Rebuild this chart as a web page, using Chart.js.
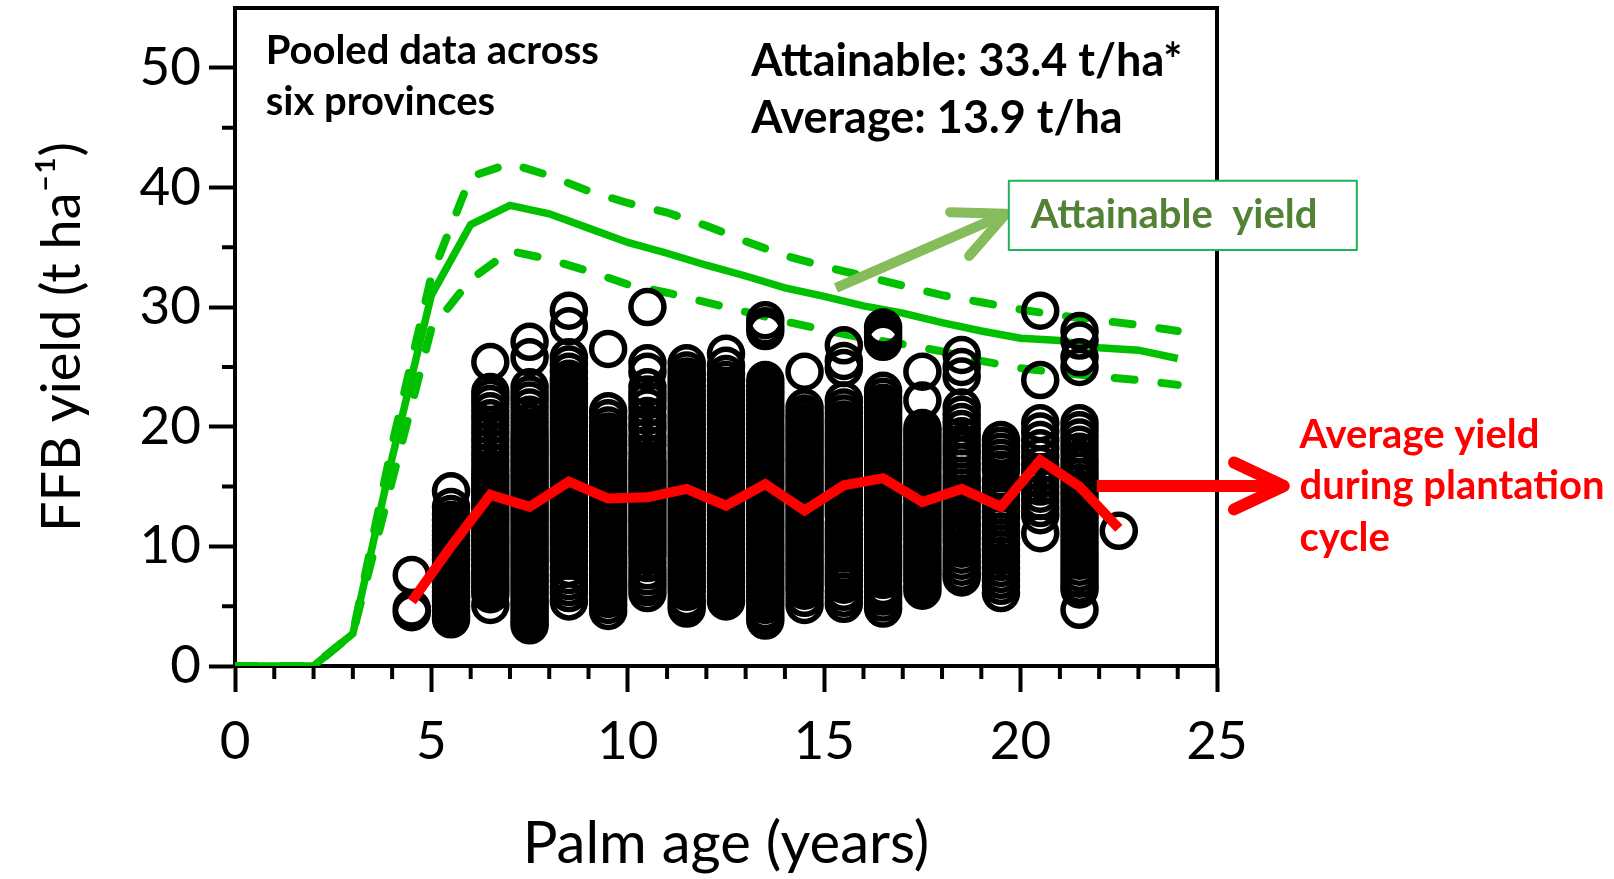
<!DOCTYPE html>
<html>
<head>
<meta charset="utf-8">
<title>FFB yield vs palm age</title>
<script src="https://cdn.jsdelivr.net/npm/chart.js@4.4.1/dist/chart.umd.min.js"></script>
<style>
  html, body { margin: 0; padding: 0; background: #fff; }
  #wrap { width: 1614px; height: 879px; }
</style>
</head>
<body>
<div id="wrap"><canvas id="yieldChart" width="1614" height="879"></canvas></div>
<script>
// Attainable yield curve and its band, read at whole palm ages
const curveAges = [0, 1, 2, 3, 4, 5, 6, 7, 8, 9, 10, 11, 12, 13, 14, 15, 16, 17, 18, 19, 20, 21, 22, 23, 24];
const attainable = [0, 0, 0, 2.7, 17.4, 31.0, 36.9, 38.5, 37.8, 36.6, 35.4, 34.5, 33.5, 32.6, 31.6, 30.9, 30.1, 29.5, 28.7, 28.0, 27.4, 27.2, 26.6, 26.4, 25.7];
const attainableHigh = [0, 0, 0, 2.7, 18.5, 32.6, 40.9, 42.0, 41.0, 39.7, 38.7, 37.9, 36.8, 35.5, 34.3, 33.4, 32.6, 31.8, 31.0, 30.4, 29.8, 29.3, 28.9, 28.5, 28.0];
const attainableLow = [0, 0, 0, 2.7, 15.5, 28.2, 32.3, 34.7, 34.0, 33.0, 31.9, 31.2, 30.4, 29.6, 28.8, 28.1, 27.4, 26.9, 26.3, 25.5, 24.9, 24.5, 24.2, 23.9, 23.5];

// Average yield during the plantation cycle (half-year columns)
const fieldAges = [4.5, 5.5, 6.5, 7.5, 8.5, 9.5, 10.5, 11.5, 12.5, 13.5, 14.5, 15.5, 16.5, 17.5, 18.5, 19.5, 20.5, 21.5, 22.5];
const averageYield = [5.4, 10.0, 14.3, 13.3, 15.4, 14.0, 14.1, 14.8, 13.4, 15.2, 13.0, 15.1, 15.7, 13.7, 14.8, 13.3, 17.2, 15.0, 11.5];

// Observed field yields, one list per column of fieldAges
const observedYields = [
  [7.6, 4.8, 4.5],
  [14.6, 13.3, 12.7, 12.2, 11.7, 11.3, 10.9, 10.5, 10.1, 9.7, 9.3, 8.9, 8.4, 7.8, 7.4, 7.0, 6.6, 6.2, 5.8, 5.4, 5.0, 4.6, 4.2, 3.9],
  [25.4, 22.9, 22.4, 21.9, 21.3, 20.7, 20.1, 19.5, 18.9, 18.3, 17.7, 17.1, 16.5, 16.0, 15.6, 15.2, 14.8, 14.4, 14.0, 13.6, 13.2, 12.8, 12.4, 12.0, 11.6, 11.2, 10.8, 10.4, 10.0, 9.6, 9.2, 8.8, 8.4, 8.0, 7.6, 7.2, 6.8, 6.4, 6.0, 5.1],
  [27.1, 25.8, 23.3, 22.7, 22.2, 21.6, 21.0, 20.4, 19.8, 19.3, 18.9, 18.5, 18.1, 17.7, 17.3, 16.9, 16.5, 16.1, 15.7, 15.3, 14.9, 14.5, 14.1, 13.7, 13.3, 12.9, 12.5, 12.1, 11.7, 11.3, 10.9, 10.5, 10.1, 9.7, 9.3, 8.9, 8.5, 8.1, 7.7, 7.3, 6.9, 6.5, 6.1, 5.7, 5.3, 4.9, 4.5, 4.1, 3.7, 3.4],
  [29.7, 28.4, 25.8, 25.2, 24.6, 24.0, 23.6, 23.2, 22.8, 22.4, 22.0, 21.6, 21.2, 20.8, 20.4, 20.0, 19.6, 19.2, 18.8, 18.4, 18.0, 17.6, 17.2, 16.8, 16.4, 16.0, 15.6, 15.2, 14.8, 14.4, 14.0, 13.6, 13.2, 12.8, 12.4, 12.0, 11.6, 11.2, 10.8, 10.4, 10.0, 9.6, 9.2, 8.8, 8.2, 7.6, 7.1, 6.6, 6.1, 5.4],
  [26.5, 21.3, 20.7, 20.1, 19.6, 19.2, 18.8, 18.4, 18.0, 17.6, 17.2, 16.8, 16.4, 16.0, 15.6, 15.2, 14.8, 14.4, 14.0, 13.6, 13.2, 12.8, 12.4, 12.0, 11.6, 11.2, 10.8, 10.4, 10.0, 9.6, 9.2, 8.8, 8.4, 8.0, 7.6, 7.2, 6.8, 6.4, 6.0, 5.6, 5.1, 4.6],
  [30.0, 25.3, 24.6, 23.3, 22.7, 22.2, 21.6, 20.9, 20.3, 19.8, 19.1, 18.5, 17.8, 17.2, 16.8, 16.4, 16.0, 15.6, 15.2, 14.8, 14.4, 14.0, 13.6, 13.2, 12.8, 12.4, 12.0, 11.6, 11.2, 10.8, 10.4, 10.0, 9.6, 9.2, 8.6, 8.0, 7.5, 7.0, 6.6, 6.1],
  [25.3, 24.7, 24.2, 23.8, 23.4, 23.0, 22.6, 22.2, 21.8, 21.4, 21.0, 20.6, 20.2, 19.8, 19.4, 19.0, 18.6, 18.2, 17.8, 17.4, 17.0, 16.6, 16.2, 15.8, 15.4, 15.0, 14.6, 14.2, 13.8, 13.4, 13.0, 12.6, 12.2, 11.8, 11.4, 11.0, 10.6, 10.2, 9.8, 9.4, 9.0, 8.6, 8.2, 7.8, 7.4, 7.0, 6.6, 6.2, 5.6, 5.2, 4.8],
  [26.1, 25.1, 24.4, 23.9, 23.4, 23.0, 22.6, 22.2, 21.8, 21.4, 21.0, 20.6, 20.2, 19.8, 19.4, 19.0, 18.6, 18.2, 17.8, 17.4, 17.0, 16.6, 16.2, 15.8, 15.4, 15.0, 14.6, 14.2, 13.8, 13.4, 13.0, 12.6, 12.2, 11.8, 11.4, 11.0, 10.6, 10.2, 9.8, 9.4, 9.0, 8.6, 8.2, 7.8, 7.4, 7.0, 6.6, 6.2, 5.8, 5.4],
  [28.9, 28.4, 28.0, 23.9, 23.5, 23.1, 22.7, 22.3, 21.9, 21.5, 21.1, 20.7, 20.3, 19.9, 19.5, 19.1, 18.7, 18.3, 17.9, 17.5, 17.1, 16.7, 16.3, 15.9, 15.5, 15.1, 14.7, 14.3, 13.9, 13.5, 13.1, 12.7, 12.3, 11.9, 11.5, 11.1, 10.7, 10.3, 9.9, 9.5, 9.1, 8.7, 8.3, 7.9, 7.5, 7.1, 6.7, 6.3, 5.9, 5.5, 5.1, 4.6, 4.2, 3.8],
  [24.6, 21.6, 21.1, 20.7, 20.3, 19.9, 19.5, 19.1, 18.7, 18.3, 17.9, 17.5, 17.1, 16.7, 16.3, 15.9, 15.5, 15.1, 14.7, 14.3, 13.9, 13.5, 13.1, 12.7, 12.3, 11.9, 11.5, 11.1, 10.7, 10.3, 9.9, 9.5, 9.1, 8.7, 8.3, 7.9, 7.5, 7.1, 6.7, 6.3, 5.7, 5.1],
  [26.8, 25.5, 24.9, 22.2, 21.6, 21.1, 20.6, 20.2, 19.8, 19.4, 19.0, 18.6, 18.2, 17.8, 17.4, 17.0, 16.6, 16.2, 15.8, 15.4, 15.0, 14.6, 14.2, 13.8, 13.4, 13.0, 12.6, 11.9, 11.4, 11.0, 10.6, 10.2, 9.8, 9.4, 8.9, 8.4, 8.0, 7.6, 7.2, 6.8, 6.2, 5.7, 5.2],
  [28.3, 27.9, 27.5, 27.1, 23.0, 22.5, 22.0, 21.6, 21.2, 20.8, 20.4, 20.0, 19.6, 19.2, 18.8, 18.4, 18.0, 17.6, 17.2, 16.8, 16.4, 16.0, 15.6, 15.2, 14.8, 14.4, 14.0, 13.4, 13.0, 12.6, 12.2, 11.8, 11.4, 11.0, 10.6, 10.0, 9.6, 9.2, 8.8, 8.4, 8.0, 7.6, 7.2, 6.6, 6.2, 5.8, 5.3, 4.8],
  [24.6, 22.2, 19.9, 19.5, 19.1, 18.7, 18.3, 17.9, 17.5, 17.1, 16.7, 16.3, 15.9, 15.5, 15.1, 14.7, 14.3, 13.9, 13.5, 13.1, 12.7, 12.3, 11.9, 11.5, 11.1, 10.7, 10.3, 9.9, 9.5, 9.1, 8.7, 8.3, 7.9, 7.5, 7.1, 6.7, 6.3],
  [26.0, 25.0, 24.2, 21.6, 21.0, 20.4, 19.8, 19.2, 18.6, 18.1, 17.6, 17.0, 16.5, 15.9, 15.4, 14.9, 14.4, 13.9, 13.4, 12.9, 12.4, 11.9, 11.4, 10.9, 10.4, 9.8, 9.3, 8.8, 8.3, 7.8, 7.4],
  [18.9, 18.4, 17.9, 17.4, 16.9, 16.4, 15.5, 14.9, 14.4, 13.9, 13.4, 12.9, 12.4, 11.8, 11.2, 10.7, 10.2, 9.7, 9.2, 8.7, 8.2, 7.7, 7.2, 6.7, 6.1],
  [29.7, 23.9, 20.3, 19.6, 18.9, 18.2, 17.5, 16.8, 16.2, 15.6, 15.0, 14.4, 13.8, 13.2, 12.6, 11.1],
  [28.0, 27.2, 25.8, 25.0, 20.3, 19.7, 19.1, 18.5, 17.9, 17.3, 16.8, 16.3, 15.8, 15.3, 14.8, 14.3, 13.8, 13.3, 12.8, 12.3, 11.8, 11.3, 10.8, 10.3, 9.8, 9.3, 8.8, 8.3, 7.8, 7.3, 6.8, 6.4, 4.7],
  [11.3]
];

const GREEN = '#00c000';
const RED = '#ff0000';
const FONT = 'Lato, "Open Sans", sans-serif';

const toPoints = (xs, ys) => xs.map((x, i) => ({ x, y: ys[i] }));
const observedPoints = [];
fieldAges.forEach((age, i) => {
  observedYields[i].forEach(v => observedPoints.push({ x: age, y: v }));
});

// Frame, minor ticks and the text/arrow annotations
const decorPlugin = {
  id: 'decor',
  afterDraw(chart) {
    const { ctx, chartArea: area, scales: { x, y } } = chart;
    const px = v => x.getPixelForValue(v);
    const py = v => y.getPixelForValue(v);
    ctx.save();

    // top and right border of the plot box
    ctx.strokeStyle = '#000';
    ctx.lineWidth = 4;
    ctx.lineCap = 'square';
    ctx.beginPath();
    ctx.moveTo(area.left, area.top);
    ctx.lineTo(area.right, area.top);
    ctx.lineTo(area.right, area.bottom);
    ctx.stroke();

    // minor ticks
    ctx.lineCap = 'butt';
    ctx.beginPath();
    for (let v = 1; v < 25; v++) {
      if (v % 5 === 0) continue;
      ctx.moveTo(px(v), area.bottom);
      ctx.lineTo(px(v), area.bottom + 13);
    }
    for (let v = 5; v < 55; v += 10) {
      ctx.moveTo(area.left - 13, py(v));
      ctx.lineTo(area.left, py(v));
    }
    ctx.stroke();

    const arrow = (x0, y0, x1, y1, color, width, head) => {
      const ang = Math.atan2(y1 - y0, x1 - x0);
      ctx.strokeStyle = color;
      ctx.lineWidth = width;
      ctx.lineCap = 'butt';
      ctx.beginPath();
      ctx.moveTo(x0, y0);
      ctx.lineTo(x1 - Math.cos(ang) * width * 0.4, y1 - Math.sin(ang) * width * 0.4);
      ctx.stroke();
      ctx.lineCap = 'round';
      ctx.lineJoin = 'round';
      ctx.beginPath();
      ctx.moveTo(x1 - Math.cos(ang - 0.44) * head, y1 - Math.sin(ang - 0.44) * head);
      ctx.lineTo(x1, y1);
      ctx.lineTo(x1 - Math.cos(ang + 0.44) * head, y1 - Math.sin(ang + 0.44) * head);
      ctx.stroke();
    };

    ctx.textBaseline = 'middle';
    ctx.textAlign = 'left';

    // study note and summary figures
    ctx.fillStyle = '#000';
    ctx.font = 'bold 40px ' + FONT;
    ctx.fillText('Pooled data across', px(0.78), py(51.4));
    ctx.fillText('six provinces', px(0.78), py(47.1));
    ctx.font = 'bold 45px ' + FONT;
    ctx.fillText('Attainable: 33.4 t/ha*', px(13.14), py(50.5));
    ctx.fillText('Average: 13.9 t/ha', px(13.14), py(45.8));

    // attainable yield call-out
    arrow(px(15.3), py(31.6), px(19.63), py(37.8), '#86bc5b', 10, 56);
    ctx.strokeStyle = '#21b35a';
    ctx.lineWidth = 2;
    ctx.fillStyle = '#fff';
    const bx0 = px(19.7), bx1 = px(28.56), by0 = py(40.55), by1 = py(34.78);
    ctx.fillRect(bx0, by0, bx1 - bx0, by1 - by0);
    ctx.strokeRect(bx0, by0, bx1 - bx0, by1 - by0);
    ctx.fillStyle = '#548235';
    ctx.font = 'bold 40px ' + FONT;
    ctx.fillText('Attainable  yield', px(20.26), py(37.7));

    // average yield call-out
    arrow(px(21.94), py(15.05), px(26.7), py(15.05), RED, 12, 55);
    ctx.fillStyle = RED;
    ctx.font = 'bold 40px ' + FONT;
    ctx.fillText('Average yield', px(27.1), py(19.3));
    ctx.fillText('during plantation', px(27.1), py(15.0));
    ctx.fillText('cycle', px(27.1), py(10.7));

    ctx.restore();
  }
};

new Chart(document.getElementById('yieldChart'), {
  type: 'scatter',
  data: {
    datasets: [
      {
        label: 'Average yield',
        data: toPoints(fieldAges, averageYield),
        showLine: true,
        borderColor: RED,
        borderWidth: 10,
        pointRadius: 0,
        order: 0,
      },
      {
        label: 'Observed',
        data: observedPoints,
        borderColor: '#000',
        backgroundColor: 'rgba(0,0,0,0)',
        borderWidth: 5.5,
        pointRadius: 16.5,
        order: 1,
      },
      {
        label: 'Attainable high',
        data: toPoints(curveAges, attainableHigh),
        showLine: true,
        borderColor: GREEN,
        borderWidth: 8,
        borderDash: [20, 27],
        borderCapStyle: 'round',
        pointRadius: 0,
        order: 2,
      },
      {
        label: 'Attainable low',
        data: toPoints(curveAges, attainableLow),
        showLine: true,
        borderColor: GREEN,
        borderWidth: 8,
        borderDash: [20, 27],
        borderCapStyle: 'round',
        pointRadius: 0,
        order: 2,
      },
      {
        label: 'Attainable yield',
        data: toPoints(curveAges, attainable),
        showLine: true,
        borderColor: GREEN,
        borderWidth: 7.5,
        pointRadius: 0,
        order: 2,
      },
    ],
  },
  options: {
    responsive: false,
    animation: false,
    layout: {
      autoPadding: false,
      padding: { top: 8, right: 397, left: 0, bottom: 0 },
    },
    plugins: {
      legend: { display: false },
      tooltip: { enabled: false },
    },
    scales: {
      x: {
        type: 'linear',
        min: 0,
        max: 25,
        afterFit: scale => { scale.height = 213; },
        border: { color: '#000', width: 4 },
        grid: {
          drawOnChartArea: false,
          tickLength: 26,
          tickWidth: 4,
          tickColor: c => (c.tick && c.tick.value % 5 === 0 ? '#000' : 'rgba(0,0,0,0)'),
        },
        ticks: {
          stepSize: 1,
          autoSkip: false,
          maxRotation: 0,
          padding: 18,
          color: '#000',
          font: { family: FONT, size: 53 },
          callback: v => (v % 5 === 0 ? v : ''),
        },
        title: {
          display: true,
          text: 'Palm age (years)',
          color: '#000',
          font: { family: FONT, size: 58 },
          padding: { top: 0, bottom: 0 },
        },
      },
      y: {
        min: 0,
        max: 55,
        afterFit: scale => {
          scale.width = 235;
          scale.paddingTop = 0;
          scale.paddingBottom = 0;
        },
        border: { color: '#000', width: 4 },
        grid: {
          drawOnChartArea: false,
          tickLength: 26,
          tickWidth: 4,
          tickColor: c => (c.tick && c.tick.value % 10 === 0 ? '#000' : 'rgba(0,0,0,0)'),
        },
        ticks: {
          stepSize: 5,
          padding: 8,
          color: '#000',
          font: { family: FONT, size: 53 },
          callback: v => (v % 10 === 0 ? v : null),
        },
        title: {
          display: true,
          text: 'FFB yield (t ha⁻¹)',
          color: '#000',
          font: { family: FONT, size: 54 },
          padding: { top: 30, bottom: 0 },
        },
      },
    },
  },
  plugins: [decorPlugin],
});
</script>
</body>
</html>
